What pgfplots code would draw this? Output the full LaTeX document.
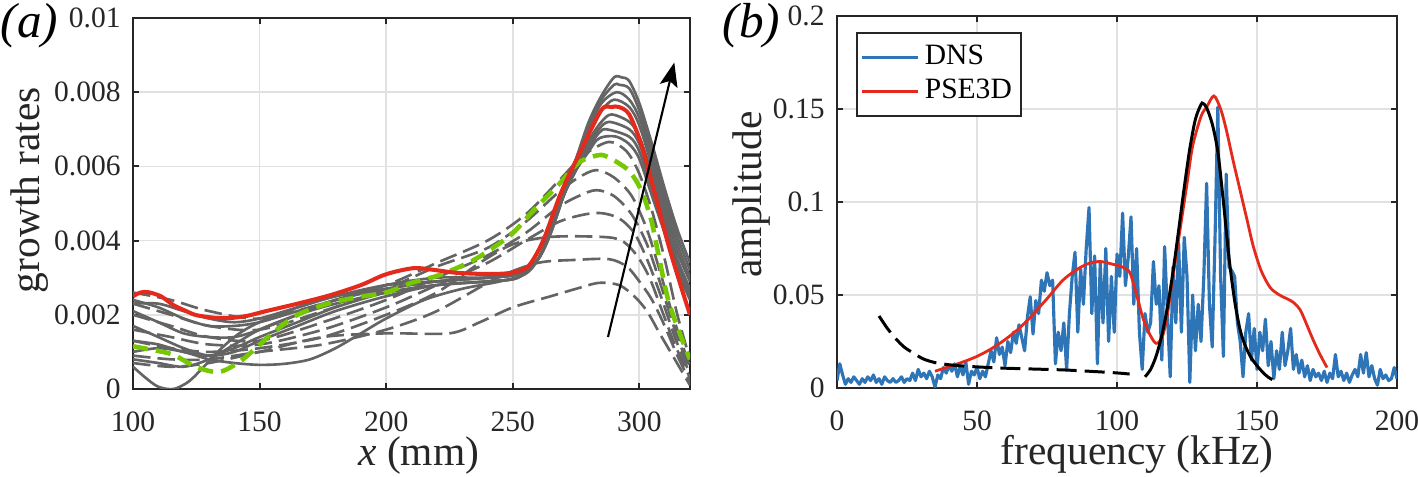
\documentclass[border=0pt]{standalone}
\usepackage{fontspec}
\setmainfont{Liberation Serif}
\usepackage{pgfplots}
\pgfplotsset{compat=1.18}
\usetikzlibrary{arrows.meta}

\definecolor{axgray}{rgb}{0.15,0.15,0.15}
\definecolor{cgray}{RGB}{100,100,100}
\definecolor{cred}{RGB}{228,42,28}
\definecolor{cgreen}{RGB}{118,200,0}
\definecolor{cblue}{RGB}{46,117,184}
\definecolor{gridc}{RGB}{225,225,225}

\pgfplotsset{
  matlab/.style={
    scale only axis,
    axis line style={axgray, line width=0.7pt},
    tick style={axgray, line width=0.6pt},
    tick align=inside,
    major tick length=0.06cm,
    grid=major,
    grid style={gridc, line width=0.5pt},
    ticklabel style={font=\fontsize{8.4}{9}\selectfont, text=axgray},
    label style={font=\fontsize{11.8}{13}\selectfont, text=axgray},
    /pgf/number format/assume math mode=true,
    xticklabel shift=3pt,
    clip mode=individual,
  },
  sol/.style={cgray, line width=0.75pt, smooth},
  das/.style={cgray, line width=0.75pt, smooth, dash pattern=on 5pt off 2pt},
}

\begin{document}
\begin{tikzpicture}
\useasboundingbox (0,0) rectangle (14.18cm,4.77cm);

% ---------- (a) growth rates ----------
\begin{axis}[matlab,
  at={(1.33cm,0.88cm)}, anchor=south west,
  width=5.57cm, height=3.71cm,
  xmin=100, xmax=320, ymin=0, ymax=0.01,
  xtick={100,150,200,250,300},
  ytick={0,0.002,0.004,0.006,0.008,0.01},
  yticklabels={0,0.002,0.004,0.006,0.008,0.01},
  scaled y ticks=false,
  xlabel={\textit{x} (mm)},
  ylabel={growth rates},
  xlabel style={at={(axis description cs:0.513,-0.207)}, anchor=base},
  ylabel style={at={(axis description cs:-0.185,0.536)}, anchor=center},
]
% solid grey family
\addplot[sol] coordinates {(100,0.0006) (105,0.0003) (110,0.00006) (116,0.0000) (122,0.0002) (128,0.0006) (135,0.0011) (142,0.0015) (150,0.0018) (165,0.0022) (180,0.0025) (200,0.0027) (220,0.0029) (240,0.0030) (252,0.0031) (260,0.0035) (265,0.0042) (270,0.0052) (275,0.0062) (280,0.0072) (285,0.0079) (290,0.0084) (293,0.0084) (296,0.0083) (300,0.0077) (305,0.0066) (310,0.0054) (315,0.0043) (320,0.0034)};
\addplot[sol] coordinates {(100,0.0024) (110,0.0022) (120,0.0019) (130,0.0017) (140,0.0017) (150,0.0018) (165,0.0021) (180,0.0024) (200,0.0028) (220,0.0030) (240,0.0030) (252,0.0031) (260,0.0035) (265,0.0042) (270,0.0052) (275,0.0062) (280,0.0071) (285,0.0078) (290,0.0082) (292,0.0082) (296,0.0081) (300,0.0075) (305,0.0064) (310,0.0052) (315,0.0041) (320,0.0032)};
\addplot[sol] coordinates {(100,0.0021) (110,0.0018) (120,0.0015) (130,0.0014) (140,0.0014) (150,0.0016) (165,0.0020) (180,0.0024) (200,0.0027) (220,0.0029) (240,0.0030) (252,0.0031) (260,0.0035) (265,0.0043) (270,0.0052) (275,0.0061) (280,0.0070) (285,0.0077) (291,0.0080) (296,0.0078) (300,0.0073) (305,0.0062) (310,0.0050) (315,0.0039) (320,0.0030)};
\addplot[sol] coordinates {(100,0.0013) (110,0.0012) (120,0.0010) (130,0.0009) (140,0.0011) (150,0.0014) (165,0.0018) (180,0.0022) (200,0.0026) (220,0.0028) (240,0.0029) (252,0.0030) (260,0.0035) (265,0.0043) (270,0.0052) (275,0.0061) (280,0.0069) (285,0.0075) (290,0.0078) (296,0.0076) (300,0.0071) (305,0.0060) (310,0.0048) (315,0.0037) (320,0.0029)};
\addplot[sol] coordinates {(100,0.0010) (110,0.0011) (120,0.0010) (130,0.0008) (140,0.0007) (150,0.00065) (160,0.00068) (170,0.0008) (180,0.0011) (190,0.0015) (200,0.0019) (215,0.0024) (230,0.0027) (245,0.0029) (255,0.0031) (260,0.0035) (265,0.0043) (270,0.0052) (275,0.0060) (280,0.0067) (285,0.0072) (289,0.0074) (296,0.0072) (300,0.0068) (305,0.0058) (310,0.0046) (315,0.0035) (320,0.0027)};
\addplot[sol] coordinates {(100,0.0017) (110,0.0014) (120,0.0011) (130,0.0009) (140,0.0010) (150,0.0013) (165,0.0017) (180,0.0021) (200,0.0025) (220,0.0028) (240,0.0029) (252,0.0030) (260,0.0035) (265,0.0043) (270,0.0052) (275,0.0060) (280,0.0066) (284,0.0070) (288,0.0072) (296,0.0070) (300,0.0066) (305,0.0056) (310,0.0045) (315,0.0034) (320,0.0026)};
\addplot[sol] coordinates {(100,0.0023) (110,0.0023) (120,0.0021) (130,0.0019) (140,0.0018) (150,0.0019) (165,0.0022) (180,0.0025) (200,0.0028) (220,0.0029) (240,0.0030) (252,0.0031) (260,0.0035) (265,0.0043) (270,0.0052) (275,0.0059) (280,0.0065) (284,0.0069) (287,0.0070) (296,0.0068) (300,0.0064) (305,0.0054) (310,0.0043) (315,0.0033) (320,0.0025)};
\addplot[sol] coordinates {(100,0.0008) (110,0.0007) (120,0.0006) (130,0.0008) (140,0.0012) (150,0.0016) (165,0.0020) (180,0.0023) (200,0.0026) (220,0.0028) (240,0.0029) (252,0.0030) (260,0.0035) (265,0.0043) (270,0.0052) (275,0.0059) (280,0.0064) (283,0.0067) (286,0.0068) (291,0.0068) (296,0.0066) (300,0.0062) (305,0.0052) (310,0.0042) (315,0.0032) (320,0.0024)};
% dashed grey family
\addplot[das] coordinates {(100,0.0026) (115,0.0024) (130,0.0021) (150,0.0019) (175,0.0023) (200,0.0028) (220,0.0034) (240,0.0040) (255,0.0047) (268,0.0056) (278,0.0063) (288,0.00666) (295,0.0064) (300,0.0058) (305,0.0048) (310,0.0035) (315,0.0020) (320,0.0008)};
\addplot[das] coordinates {(100,0.0023) (115,0.0020) (130,0.0017) (150,0.0016) (175,0.0021) (200,0.0027) (220,0.0033) (240,0.0038) (255,0.0045) (268,0.0053) (276,0.0057) (283,0.0059) (290,0.0057) (297,0.0052) (303,0.0043) (308,0.0032) (314,0.0018) (320,0.0006)};
\addplot[das] coordinates {(100,0.0020) (115,0.0017) (130,0.0014) (150,0.0013) (175,0.0018) (200,0.0024) (220,0.0030) (240,0.0036) (255,0.0042) (268,0.0049) (276,0.0052) (283,0.00536) (290,0.0052) (297,0.0047) (303,0.0039) (308,0.0029) (314,0.0016) (320,0.0005)};
\addplot[das] coordinates {(100,0.0016) (115,0.0014) (130,0.0012) (150,0.0012) (175,0.0016) (200,0.0022) (220,0.0028) (240,0.0034) (255,0.0040) (268,0.0045) (278,0.0047) (285,0.00474) (292,0.0046) (298,0.0042) (303,0.0035) (308,0.0026) (314,0.0014) (320,0.0004)};
\addplot[das] coordinates {(100,0.0013) (115,0.0011) (130,0.0010) (150,0.0011) (175,0.0014) (200,0.0020) (220,0.0026) (237,0.0034) (250,0.0039) (265,0.0041) (285,0.0041) (293,0.0040) (299,0.0036) (304,0.0030) (309,0.0021) (314,0.0012) (320,0.0003)};
\addplot[das] coordinates {(100,0.0009) (115,0.0008) (130,0.0008) (150,0.0010) (175,0.0012) (200,0.0016) (220,0.0021) (244,0.0030) (260,0.0034) (275,0.00348) (288,0.0035) (295,0.0033) (300,0.0029) (305,0.0024) (310,0.0017) (315,0.0009) (320,0.0002)};
\addplot[das] coordinates {(100,0.0007) (115,0.0006) (130,0.0007) (150,0.0010) (175,0.0014) (200,0.0015) (225,0.0015) (237,0.0018) (250,0.0022) (265,0.0025) (275,0.0027) (284,0.00286) (292,0.0028) (298,0.0025) (303,0.0021) (308,0.0015) (314,0.0008) (320,0.0001)};
% green dashed
\addplot[cgreen, line width=1.3pt, smooth, dash pattern=on 4.3pt off 2.3pt] coordinates {(100,0.00115) (108,0.00105) (116,0.00092) (125,0.00059) (134,0.00046) (142,0.00073) (149,0.00113) (155,0.0015) (165,0.0020) (178,0.00232) (191,0.0025) (200,0.0026) (210,0.00286) (221,0.00307) (233,0.00342) (241,0.00375) (250,0.0042) (258,0.0048) (268,0.0055) (276,0.0061) (283.7,0.0063) (287.6,0.00625) (295.6,0.0059) (300.7,0.00536) (304.7,0.00455) (307.4,0.00367) (311.4,0.0024) (316.5,0.0014) (320,0.0008)};
% red solid
\addplot[cred, line width=1.15pt, smooth] coordinates {(100,0.0025) (103,0.0026) (106,0.00261) (111,0.0025) (116,0.00226) (121,0.0021) (125,0.00199) (132,0.00192) (138,0.00191) (145,0.00197) (152,0.00209) (165,0.0023) (178,0.00253) (190,0.0028) (199,0.00307) (206,0.0032) (212,0.00326) (220,0.0032) (228,0.00313) (240,0.0031) (249,0.00313) (256,0.0033) (262,0.0040) (269,0.00528) (277,0.00644) (285,0.00752) (289,0.0076) (292,0.0076) (296,0.0074) (300.7,0.0066) (306,0.0053) (311.4,0.0039) (316.5,0.00275) (320,0.0020)};
% arrow
\addplot[black, line width=0.6pt, -{Stealth[length=2.4mm, width=1.8mm, inset=0.5mm]}] coordinates {(287.6,0.0014) (313.8,0.0088)};
\end{axis}
\node[anchor=north west, font=\fontsize{14}{15}\selectfont\itshape, inner sep=0pt] at (0.0cm,4.74cm) {(a)};

% ---------- (b) amplitude ----------
\begin{axis}[matlab,
  at={(8.37cm,0.89cm)}, anchor=south west,
  width=5.60cm, height=3.72cm,
  xmin=0, xmax=200, ymin=0, ymax=0.2,
  xtick={0,50,100,150,200},
  ytick={0,0.05,0.1,0.15,0.2},
  yticklabels={0,0.05,0.1,0.15,0.2},
  scaled y ticks=false,
  xlabel={frequency (kHz)},
  ylabel={amplitude},
  xlabel style={at={(axis description cs:0.536,-0.207)}, anchor=base},
  ylabel style={at={(axis description cs:-0.152,0.52)}, anchor=center},
  legend style={at={(0.034,0.957)}, anchor=north west, draw=axgray, line width=0.5pt,
    font=\fontsize{8.4}{9.5}\selectfont, inner xsep=1pt, inner ysep=1.5pt, row sep=-1.5pt,
    nodes={inner xsep=1.5pt}},
  legend cell align=left,
  legend image code/.code={\draw[#1] (0cm,0cm) -- (0.56cm,0cm);},
]
\addplot[cblue, line width=0.9pt, line join=round] coordinates {
(0,0.004) (1,0.013) (2,0.007) (3,0.002) (4,0.005) (5,0.003) (6,0.006) (7,0.004) (8,0.002) (9,0.005)
(10,0.003) (11,0.006) (12,0.004) (13,0.007) (14,0.003) (15,0.005) (16,0.002) (17,0.006) (18,0.004) (19,0.003)
(20,0.005) (21,0.003) (22,0.004) (23,0.006) (24,0.003) (25,0.005) (26,0.004) (27,0.008) (28,0.004) (29,0.010)
(30,0.006) (31,0.008) (32,0.005) (33,0.009) (34,0.006) (35,0.0005) (36,0.007) (37,0.005) (38,0.011) (39,0.008)
(40,0.012) (41,0.009) (42,0.013) (43,0.006) (44,0.012) (45,0.007) (46,0.014) (47,0.002) (48,0.009) (49,0.007)
(50,0.011) (51,0.005) (52,0.009) (53,0.006) (54,0.013) (55,0.020) (56,0.014) (57,0.027) (58,0.018) (59,0.022)
(60,0.012) (61,0.025) (62,0.019) (63,0.030) (64,0.024) (65,0.034) (66,0.027) (67,0.020) (68,0.038) (69,0.049)
(70,0.029) (71,0.047) (72,0.040) (73,0.058) (74,0.052) (75,0.062) (76,0.055) (77,0.058) (78,0.013) (79,0.030)
(80,0.020) (81,0.035) (82,0.010) (83,0.040) (84,0.060) (85,0.073) (86,0.030) (87,0.064) (88,0.045) (89,0.075)
(90,0.097) (91,0.040) (92,0.071) (93,0.013) (94,0.067) (95,0.035) (96,0.075) (97,0.025) (98,0.060) (99,0.030)
(100,0.072) (101,0.060) (102,0.094) (103,0.055) (104,0.070) (105,0.092) (106,0.045) (107,0.075) (108,0.030) (109,0.010)
(110,0.040) (111,0.030) (112,0.035) (113,0.068) (114,0.045) (115,0.055) (116,0.015) (117,0.076) (118,0.040) (119,0.006)
(120,0.065) (121,0.035) (122,0.078) (123,0.030) (124,0.081) (125,0.060) (126,0.003) (127,0.050) (128,0.020) (129,0.045)
(130,0.025) (131,0.060) (132,0.110) (133,0.045) (134,0.022) (135,0.080) (136,0.151) (137,0.060) (138,0.017) (139,0.115)
(140,0.065) (141,0.063) (142,0.060) (143,0.035) (144,0.025) (145,0.006) (146,0.030) (147,0.040) (148,0.015) (149,0.032)
(150,0.010) (151,0.030) (152,0.020) (153,0.037) (154,0.012) (155,0.025) (156,0.005) (157,0.020) (158,0.010) (159,0.030)
(160,0.012) (161,0.020) (162,0.032) (163,0.010) (164,0.018) (165,0.008) (166,0.015) (167,0.006) (168,0.012) (169,0.004)
(170,0.010) (171,0.006) (172,0.008) (173,0.004) (174,0.009) (175,0.003) (176,0.008) (177,0.005) (178,0.018) (179,0.006)
(180,0.009) (181,0.004) (182,0.008) (183,0.003) (184,0.007) (185,0.010) (186,0.006) (187,0.018) (188,0.008) (189,0.019)
(190,0.006) (191,0.012) (192,0.005) (193,0.0015) (194,0.010) (195,0.005) (196,0.007) (197,0.004) (198,0.005) (199,0.011)
(200,0.005)};
\addlegendentry{DNS}
\addplot[cred, line width=0.8pt, smooth] coordinates {(35,0.009) (40,0.0115) (45,0.014) (50,0.017) (55,0.021) (60,0.026) (65,0.032) (69,0.038) (75,0.048) (80.7,0.058) (86,0.064) (90,0.067) (94,0.068) (98,0.0667) (102,0.065) (104.6,0.062) (107,0.050) (109.4,0.037) (112,0.028) (114,0.024) (116,0.027) (117.7,0.037) (120,0.060) (122.5,0.085) (125,0.110) (127,0.130) (130,0.146) (132,0.151) (134.6,0.157) (137,0.150) (139,0.139) (141.5,0.122) (144,0.106) (146.5,0.090) (148.7,0.076) (151.5,0.063) (154.7,0.054) (158,0.050) (160.7,0.048) (163,0.046) (165.4,0.042) (167.5,0.035) (170,0.026) (172.5,0.018) (175,0.011)};
\addlegendentry{PSE3D}
\addplot[black, line width=0.85pt, smooth, forget plot] coordinates {(110,0.0060) (112,0.0100) (114,0.0173) (116,0.0283) (118,0.0434) (120,0.0626) (122,0.0847) (124,0.1077) (126,0.1287) (128,0.1445) (130,0.1524) (130.7,0.153) (132,0.1507) (134,0.142) (136,0.127) (138,0.100) (140,0.070) (142,0.047) (144,0.031) (146,0.0220) (148,0.0160) (150,0.0120) (152,0.0085) (154,0.0058) (155.5,0.0045)};
\addplot[black, line width=0.85pt, smooth, dash pattern=on 5.7pt off 2.3pt, forget plot] coordinates {(15,0.0387) (18,0.032) (21.3,0.026) (24,0.022) (27,0.019) (31,0.0155) (35.7,0.0134) (40,0.0125) (45,0.0118) (57,0.0108) (70,0.0102) (81,0.0097) (90,0.009) (100,0.0081) (104.5,0.0075)};
\end{axis}
\node[anchor=north west, font=\fontsize{14}{15}\selectfont\itshape, inner sep=0pt] at (7.22cm,4.74cm) {(b)};
\end{tikzpicture}
\end{document}
